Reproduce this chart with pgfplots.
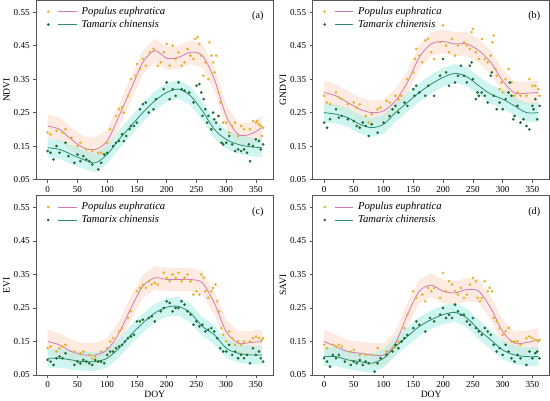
\documentclass[border=0pt]{standalone}
\usepackage{fontspec}
\setmainfont{Liberation Serif}
\usepackage{pgfplots}
\pgfplotsset{compat=1.18}
\usepgfplotslibrary{groupplots,fillbetween}

\definecolor{popdot}{HTML}{E5B22A}
\definecolor{popline}{HTML}{D47AB0}
\definecolor{popband}{HTML}{FCDCCB}
\definecolor{tamdot}{HTML}{1C6B2E}
\definecolor{tamline}{HTML}{2A8F6E}
\definecolor{tamband}{HTML}{AEEFE8}
\definecolor{frame}{HTML}{555555}

% fitted curves with band: x, Populus (p, plo, phi), Tamarix (t, tlo, thi)
\pgfplotstableread{
x p plo phi t tlo thi
0 0.210 0.175 0.245 0.145 0.117 0.173
20 0.200 0.165 0.235 0.140 0.112 0.168
40 0.170 0.135 0.205 0.125 0.097 0.153
60 0.145 0.110 0.180 0.110 0.082 0.138
80 0.140 0.105 0.175 0.100 0.072 0.128
100 0.165 0.130 0.200 0.125 0.097 0.153
120 0.240 0.205 0.275 0.170 0.142 0.198
140 0.320 0.285 0.355 0.210 0.182 0.238
160 0.400 0.365 0.435 0.250 0.222 0.278
180 0.435 0.400 0.470 0.285 0.257 0.313
200 0.412 0.377 0.447 0.310 0.282 0.338
220 0.415 0.380 0.450 0.320 0.292 0.348
240 0.430 0.395 0.465 0.300 0.272 0.328
260 0.420 0.385 0.455 0.255 0.227 0.283
280 0.350 0.315 0.385 0.200 0.172 0.228
300 0.240 0.205 0.275 0.170 0.142 0.198
320 0.185 0.150 0.220 0.155 0.127 0.183
340 0.185 0.150 0.220 0.148 0.120 0.176
360 0.205 0.170 0.240 0.145 0.117 0.173
}\fitA
\pgfplotstableread{
x p plo phi t tlo thi
0 0.310 0.275 0.345 0.250 0.222 0.278
20 0.300 0.265 0.335 0.245 0.217 0.273
40 0.280 0.245 0.315 0.235 0.207 0.263
60 0.260 0.225 0.295 0.215 0.187 0.243
80 0.250 0.215 0.285 0.205 0.177 0.233
100 0.255 0.220 0.290 0.215 0.187 0.243
120 0.285 0.250 0.320 0.250 0.222 0.278
140 0.340 0.305 0.375 0.280 0.252 0.308
160 0.415 0.380 0.450 0.310 0.282 0.338
180 0.455 0.420 0.490 0.335 0.307 0.363
200 0.462 0.427 0.497 0.355 0.327 0.383
220 0.455 0.420 0.490 0.367 0.339 0.395
240 0.455 0.420 0.490 0.357 0.329 0.385
260 0.435 0.400 0.470 0.330 0.302 0.358
280 0.400 0.365 0.435 0.305 0.277 0.333
300 0.345 0.310 0.380 0.290 0.262 0.318
320 0.308 0.273 0.343 0.270 0.242 0.298
340 0.308 0.273 0.343 0.250 0.222 0.278
360 0.310 0.275 0.345 0.250 0.222 0.278
}\fitB
\pgfplotstableread{
x p plo phi t tlo thi
0 0.150 0.115 0.185 0.100 0.072 0.128
20 0.140 0.105 0.175 0.100 0.072 0.128
40 0.120 0.085 0.155 0.095 0.067 0.123
60 0.110 0.075 0.145 0.090 0.062 0.118
80 0.110 0.075 0.145 0.090 0.062 0.118
100 0.125 0.090 0.160 0.100 0.072 0.128
120 0.175 0.140 0.210 0.130 0.102 0.158
140 0.250 0.215 0.285 0.170 0.142 0.198
160 0.315 0.280 0.350 0.205 0.177 0.233
180 0.340 0.305 0.375 0.235 0.207 0.263
200 0.335 0.300 0.370 0.252 0.224 0.280
220 0.335 0.300 0.370 0.255 0.227 0.283
240 0.335 0.300 0.370 0.235 0.207 0.263
260 0.325 0.290 0.360 0.195 0.167 0.223
280 0.265 0.230 0.300 0.170 0.142 0.198
300 0.180 0.145 0.215 0.130 0.102 0.158
320 0.145 0.110 0.180 0.115 0.087 0.143
340 0.147 0.112 0.182 0.110 0.082 0.138
360 0.150 0.115 0.185 0.110 0.082 0.138
}\fitC
\pgfplotstableread{
x p plo phi t tlo thi
0 0.150 0.115 0.185 0.105 0.077 0.133
20 0.135 0.100 0.170 0.105 0.077 0.133
40 0.120 0.085 0.155 0.095 0.067 0.123
60 0.115 0.080 0.150 0.090 0.062 0.118
80 0.110 0.075 0.145 0.085 0.057 0.113
100 0.110 0.075 0.145 0.100 0.072 0.128
120 0.145 0.110 0.180 0.135 0.107 0.163
140 0.230 0.195 0.265 0.165 0.137 0.193
160 0.300 0.265 0.335 0.195 0.167 0.223
180 0.318 0.283 0.353 0.215 0.187 0.243
200 0.300 0.265 0.335 0.230 0.202 0.258
220 0.295 0.260 0.330 0.237 0.209 0.265
240 0.305 0.270 0.340 0.220 0.192 0.248
260 0.300 0.265 0.335 0.185 0.157 0.213
280 0.250 0.215 0.285 0.155 0.127 0.183
300 0.180 0.145 0.215 0.125 0.097 0.153
320 0.145 0.110 0.180 0.110 0.082 0.138
340 0.147 0.112 0.182 0.105 0.077 0.133
360 0.155 0.120 0.190 0.105 0.077 0.133
}\fitD

% observations (DOY, value)
\pgfplotstableread{
0 0.19
5 0.185
15 0.195
25 0.19
30 0.20
40 0.175
50 0.15
55 0.16
65 0.14
75 0.135
85 0.13
90 0.13
100 0.16
105 0.20
115 0.24
120 0.26
125 0.265
128 0.25
135 0.30
140 0.35
148 0.36
150 0.395
155 0.38
160 0.41
165 0.39
172 0.43
178 0.44
185 0.39
190 0.40
195 0.43
200 0.455
205 0.39
210 0.45
215 0.41
220 0.43
225 0.39
230 0.40
235 0.44
240 0.42
245 0.41
248 0.47
252 0.475
255 0.455
258 0.42
262 0.36
265 0.40
270 0.35
272 0.46
275 0.42
278 0.40
280 0.37
283 0.42
287 0.31
290 0.28
295 0.22
300 0.22
305 0.19
310 0.21
315 0.22
320 0.18
325 0.21
330 0.20
340 0.20
345 0.225
350 0.22
352 0.225
355 0.215
358 0.21
360 0.18
362 0.205
}\popA
\pgfplotstableread{
0 0.135
5 0.13
10 0.11
15 0.15
20 0.13
30 0.16
35 0.12
45 0.10
50 0.125
55 0.105
60 0.12
65 0.11
70 0.105
75 0.095
85 0.08
90 0.10
95 0.125
100 0.13
110 0.15
115 0.16
120 0.165
125 0.185
128 0.165
132 0.18
138 0.20
140 0.21
145 0.21
150 0.22
155 0.26
160 0.275
165 0.28
170 0.25
178 0.26
182 0.29
195 0.32
200 0.34
205 0.29
210 0.32
215 0.30
220 0.34
225 0.32
230 0.315
238 0.31
245 0.28
250 0.33
255 0.335
258 0.31
260 0.24
262 0.29
265 0.26
268 0.22
270 0.24
275 0.20
278 0.25
280 0.23
283 0.22
287 0.24
290 0.20
292 0.16
295 0.155
300 0.16
305 0.18
310 0.155
315 0.135
320 0.14
325 0.135
330 0.14
335 0.13
338 0.155
340 0.105
345 0.15
350 0.17
355 0.165
358 0.14
362 0.155
}\tamA
\pgfplotstableread{
0 0.30
5 0.28
10 0.275
20 0.31
25 0.295
30 0.29
40 0.275
50 0.28
55 0.265
60 0.275
70 0.24
75 0.22
80 0.245
90 0.26
95 0.265
105 0.285
110 0.28
120 0.30
125 0.29
130 0.30
140 0.35
150 0.37
153 0.41
155 0.44
160 0.42
165 0.40
170 0.465
175 0.47
180 0.43
185 0.41
195 0.46
200 0.51
205 0.45
210 0.43
215 0.47
220 0.42
225 0.45
235 0.46
240 0.45
245 0.44
248 0.49
250 0.50
255 0.43
260 0.41
265 0.47
270 0.41
275 0.40
280 0.42
283 0.46
285 0.48
288 0.38
290 0.36
295 0.32
298 0.34
300 0.31
305 0.35
310 0.38
315 0.34
320 0.30
325 0.31
330 0.30
340 0.30
345 0.35
350 0.33
355 0.33
360 0.32
362 0.30
}\popB
\pgfplotstableread{
0 0.22
5 0.205
10 0.23
20 0.26
25 0.235
30 0.24
40 0.23
50 0.225
55 0.21
60 0.205
65 0.22
70 0.21
75 0.18
80 0.215
90 0.19
100 0.22
110 0.24
115 0.26
120 0.27
125 0.25
135 0.28
140 0.27
150 0.32
152 0.30
155 0.33
160 0.31
170 0.30
175 0.33
185 0.30
195 0.36
200 0.41
205 0.37
210 0.33
220 0.34
225 0.36
230 0.39
235 0.36
240 0.34
245 0.39
248 0.40
250 0.35
255 0.29
258 0.31
260 0.30
265 0.31
270 0.30
275 0.28
280 0.36
282 0.37
285 0.30
290 0.26
295 0.28
300 0.26
305 0.29
310 0.31
312 0.34
315 0.30
318 0.23
320 0.24
325 0.27
330 0.22
335 0.23
340 0.21
345 0.20
350 0.27
352 0.26
355 0.29
358 0.23
362 0.27
}\tamB
\pgfplotstableread{
0 0.13
5 0.135
15 0.12
20 0.13
25 0.135
30 0.14
45 0.12
55 0.115
60 0.12
70 0.11
75 0.10
80 0.105
90 0.12
100 0.13
105 0.15
110 0.16
120 0.18
125 0.19
135 0.22
140 0.24
150 0.30
155 0.31
160 0.32
165 0.31
170 0.33
175 0.32
180 0.325
185 0.32
195 0.355
200 0.34
205 0.33
210 0.35
215 0.34
220 0.355
225 0.33
230 0.34
235 0.35
240 0.33
245 0.29
250 0.30
255 0.29
258 0.35
262 0.34
265 0.30
270 0.28
275 0.30
278 0.31
282 0.32
285 0.27
288 0.24
292 0.19
295 0.17
300 0.15
305 0.18
310 0.16
315 0.14
320 0.15
325 0.14
330 0.15
340 0.15
345 0.16
350 0.165
355 0.16
360 0.155
362 0.16
}\popC
\pgfplotstableread{
0 0.095
5 0.09
10 0.08
15 0.10
20 0.105
25 0.10
30 0.115
45 0.08
50 0.09
55 0.085
60 0.095
65 0.09
70 0.085
75 0.08
80 0.095
85 0.09
90 0.09
95 0.085
100 0.11
105 0.12
110 0.12
115 0.13
120 0.135
125 0.14
130 0.15
135 0.16
140 0.165
145 0.17
150 0.21
155 0.21
160 0.215
170 0.22
175 0.225
180 0.21
190 0.24
195 0.25
200 0.27
205 0.265
210 0.24
215 0.25
220 0.25
225 0.27
230 0.26
235 0.24
240 0.23
245 0.20
250 0.21
255 0.195
260 0.20
265 0.18
270 0.185
275 0.19
280 0.18
285 0.16
290 0.13
295 0.12
300 0.12
305 0.14
310 0.11
315 0.12
320 0.10
325 0.11
330 0.10
335 0.11
340 0.085
345 0.13
350 0.11
355 0.12
358 0.10
362 0.09
}\tamC
\pgfplotstableread{
0 0.14
5 0.13
15 0.14
20 0.135
25 0.14
30 0.135
45 0.12
50 0.125
60 0.11
70 0.11
80 0.11
90 0.13
95 0.10
105 0.12
115 0.13
120 0.14
125 0.15
135 0.19
140 0.23
150 0.30
155 0.28
165 0.29
170 0.27
175 0.31
180 0.30
185 0.31
195 0.28
200 0.355
205 0.30
210 0.33
215 0.32
220 0.30
225 0.29
230 0.31
235 0.28
240 0.29
245 0.32
250 0.34
255 0.33
258 0.28
262 0.27
265 0.28
270 0.33
275 0.30
278 0.31
282 0.30
285 0.22
290 0.21
295 0.19
300 0.17
305 0.18
310 0.19
315 0.15
320 0.15
325 0.15
330 0.14
340 0.16
345 0.165
350 0.16
355 0.155
360 0.15
362 0.155
}\popD
\pgfplotstableread{
0 0.10
5 0.09
10 0.075
15 0.11
20 0.10
25 0.11
35 0.09
45 0.08
50 0.09
55 0.085
60 0.095
65 0.08
70 0.09
75 0.085
85 0.06
90 0.085
95 0.10
105 0.11
115 0.12
120 0.14
125 0.13
130 0.15
135 0.16
140 0.17
150 0.19
155 0.21
160 0.20
170 0.18
178 0.22
185 0.21
195 0.23
200 0.25
205 0.22
210 0.23
215 0.22
220 0.26
225 0.24
230 0.23
235 0.23
240 0.21
245 0.20
250 0.22
255 0.19
260 0.18
265 0.17
270 0.19
275 0.18
280 0.17
285 0.14
290 0.12
295 0.13
300 0.11
305 0.14
310 0.12
315 0.10
320 0.09
325 0.11
330 0.10
340 0.08
345 0.12
350 0.10
355 0.115
358 0.12
362 0.10
}\tamD

\newcommand{\panel}[4]{%
  \addplot[draw=none, forget plot, name path=#4ph] table[x=x, y=phi] {#1};
  \addplot[draw=none, forget plot, name path=#4pl] table[x=x, y=plo] {#1};
  \addplot[popband, fill opacity=0.6, draw=none, forget plot] fill between[of=#4ph and #4pl];
  \addplot[draw=none, forget plot, name path=#4th] table[x=x, y=thi] {#1};
  \addplot[draw=none, forget plot, name path=#4tl] table[x=x, y=tlo] {#1};
  \addplot[tamband, fill opacity=0.6, draw=none, forget plot] fill between[of=#4th and #4tl];
  \addplot[only marks, mark=*, mark size=1.1pt, popdot, forget plot] table {#2};
  \addplot[only marks, mark=*, mark size=1.1pt, tamdot, forget plot] table {#3};
  \addplot[popline, line width=0.8pt, smooth, no marks, forget plot] table[x=x, y=p] {#1};
  \addplot[tamline, line width=0.8pt, smooth, no marks, forget plot] table[x=x, y=t] {#1};
  \addlegendimage{legend image code/.code={
    \path[draw=none, fill=none] (-1pt,-1pt) rectangle (31pt,1pt);
    \fill[popdot] (0pt,0pt) circle (1.1pt);
    \draw[popline, line width=0.8pt] (10pt,0pt) -- (28pt,0pt);}}
  \addlegendentry{Populus euphratica}
  \addlegendimage{legend image code/.code={
    \path[draw=none, fill=none] (-1pt,-1pt) rectangle (31pt,1pt);
    \fill[tamdot] (0pt,0pt) circle (1.1pt);
    \draw[tamline, line width=0.8pt] (10pt,0pt) -- (28pt,0pt);}}
  \addlegendentry{Tamarix chinensis}
}

\begin{document}
\begin{tikzpicture}
\begin{groupplot}[
  group style={group size=2 by 2, horizontal sep=39pt, vertical sep=16pt},
  width=234pt, height=177pt, scale only axis,
  xmin=-19, xmax=379, ymin=0.05, ymax=0.585,
  xtick={0,50,...,350},
  ytick={0.05,0.15,0.25,0.35,0.45,0.55},
  yticklabel style={/pgf/number format/.cd, fixed, fixed zerofill, precision=2},
  /pgf/number format/assume math mode=true,
  tick label style={font=\fontsize{9}{10}\selectfont},
  label style={font=\fontsize{9.5}{10}\selectfont},
  tick pos=left, tick align=outside, major tick length=3pt,
  axis line style={frame, line width=0.7pt},
  every tick/.style={frame, line width=0.6pt},
  ylabel shift=-3pt,
  legend style={at={(0.04,0.98)}, anchor=north west, draw=none, fill=none,
    font=\itshape\fontsize{10.5}{11}\selectfont, row sep=0pt, inner sep=1pt},
  legend cell align=left,
]
\nextgroupplot[ylabel={NDVI}]
\panel{\fitA}{\popA}{\tamA}{a}
\node at (rel axis cs:0.935,0.91) {\fontsize{10}{11}\selectfont (a)};
\nextgroupplot[ylabel={GNDVI}]
\panel{\fitB}{\popB}{\tamB}{b}
\node at (rel axis cs:0.935,0.91) {\fontsize{10}{11}\selectfont (b)};
\nextgroupplot[ylabel={EVI}, xlabel={DOY}, xlabel shift=-4pt]
\panel{\fitC}{\popC}{\tamC}{c}
\node at (rel axis cs:0.935,0.91) {\fontsize{10}{11}\selectfont (c)};
\nextgroupplot[ylabel={SAVI}, xlabel={DOY}, xlabel shift=-4pt]
\panel{\fitD}{\popD}{\tamD}{d}
\node at (rel axis cs:0.935,0.91) {\fontsize{10}{11}\selectfont (d)};
\end{groupplot}
\end{tikzpicture}
\end{document}
